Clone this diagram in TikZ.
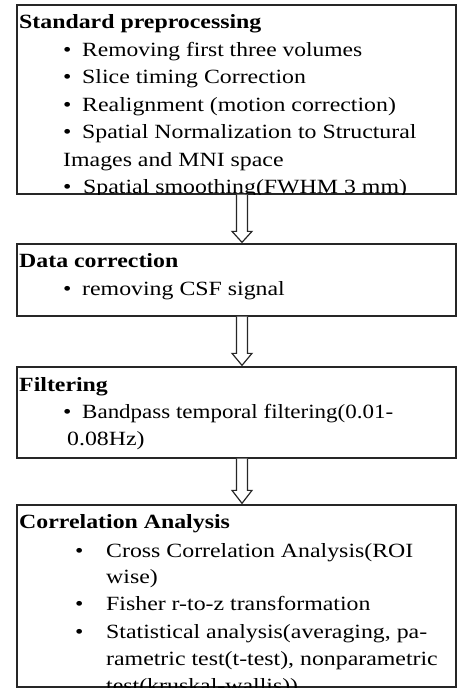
\documentclass[tikz,border=0pt]{standalone}
\usepackage{graphicx}
\usepackage{fontspec}
\setmainfont{Liberation Serif}[FakeStretch=1.18]
\usetikzlibrary{calc}
\begin{document}
\begin{tikzpicture}[x=1pt,y=-1pt,
  box/.style={draw=black!85, line width=1.3pt, minimum width=439pt, inner sep=0pt},
  txt/.style={anchor=base west, inner sep=0pt, font=\fontsize{20.2}{27.5}\selectfont},
  ttl/.style={anchor=base west, inner sep=0pt, font=\fontsize{20.2}{27.5}\selectfont\bfseries},
  blockarr/.style={draw=black!85, line width=1.2pt, fill=white, line join=miter}]
\useasboundingbox (0,0) rectangle (463,699);

% boxes
\node[box, minimum height=189pt] (b1) at (236.5,99.5) {};
\node[box, minimum height=72pt]  (b2) at (236.5,280) {};
\node[box, minimum height=91pt]  (b3) at (236.5,412.5) {};
\node[box, minimum height=182pt] (b4) at (236.5,596) {};

% box 1 text
\begin{scope}
\clip (b1.north west) rectangle (b1.south east);
\node[ttl] (t1) at (19,28) {Standard preprocessing};
\node[txt] (p1b1) at (63,56) {•};
\node[txt] (p1i1) at (82,56) {\resizebox{280pt}{\height}{Removing first three volumes}};
\node[txt] (p1b2) at (63,83.5) {•};
\node[txt] (p1i2) at (82,83.5) {Slice timing Correction};
\node[txt] (p1b3) at (63,111) {•};
\node[txt] (p1i3) at (82,111) {Realignment (motion correction)};
\node[txt] (p1b4) at (63,138.5) {•};
\node[txt] (p1i4) at (82,138.5) {Spatial Normalization to Structural};
\node[txt] (p1i4b) at (63,166) {Images and MNI space};
\node[txt] (p1b5) at (63,193.5) {•};
\node[txt] (p1i5) at (83,193.5) {Spatial smoothing(FWHM 3 mm)};
\end{scope}

% box 2 text
\node[ttl] (t2) at (19,267) {Data correction};
\node[txt] (p2b1) at (63,295) {•};
\node[txt] (p2i1) at (82,295) {removing CSF signal};

% box 3 text
\node[ttl] (t3) at (19,391) {Filtering};
\node[txt] (p3b1) at (63,418) {•};
\node[txt] (p3i1) at (82,418) {\resizebox{311pt}{\height}{Bandpass temporal filtering(0.01-}};
\node[txt] (p3i1b) at (67,445) {0.08Hz)};

% box 4 text
\begin{scope}
\clip (b4.north west) rectangle (b4.south east);
\node[ttl] (t4) at (19,528) {Correlation Analysis};
\node[txt] (p4b1) at (75,557) {•};
\node[txt] (p4i1) at (106,557) {Cross Correlation Analysis(ROI};
\node[txt] (p4i1b) at (106,583.5) {wise)};
\node[txt] (p4b2) at (75,610.5) {•};
\node[txt] (p4i2) at (106,610.5) {Fisher r-to-z transformation};
\node[txt] (p4b3) at (75,638) {•};
\node[txt] (p4i3) at (106,638) {Statistical analysis(averaging, pa-};
\node[txt] (p4i3b) at (106,665) {rametric test(t-test), nonparametric};
\node[txt] (p4i3c) at (106,692) {test(kruskal-wallis))};
\end{scope}

% block arrows
\foreach \a/\b/\h in {b1/b2/11, b2/b3/12, b3/b4/13} {
  \coordinate (top) at ($(\a.south)+(5.5,0)$);
  \coordinate (tip) at ($(\b.north)+(5.5,-1)$);
  \coordinate (hb) at ($(tip)+(0,-\h)$);
  \draw[blockarr] ($(top)+(-5.5,0)$) -- ($(hb)+(-5.5,0)$) -- ($(hb)+(-10,0)$) -- (tip)
     -- ($(hb)+(10,0)$) -- ($(hb)+(5.5,0)$) -- ($(top)+(5.5,0)$);
}
\end{tikzpicture}
\end{document}
